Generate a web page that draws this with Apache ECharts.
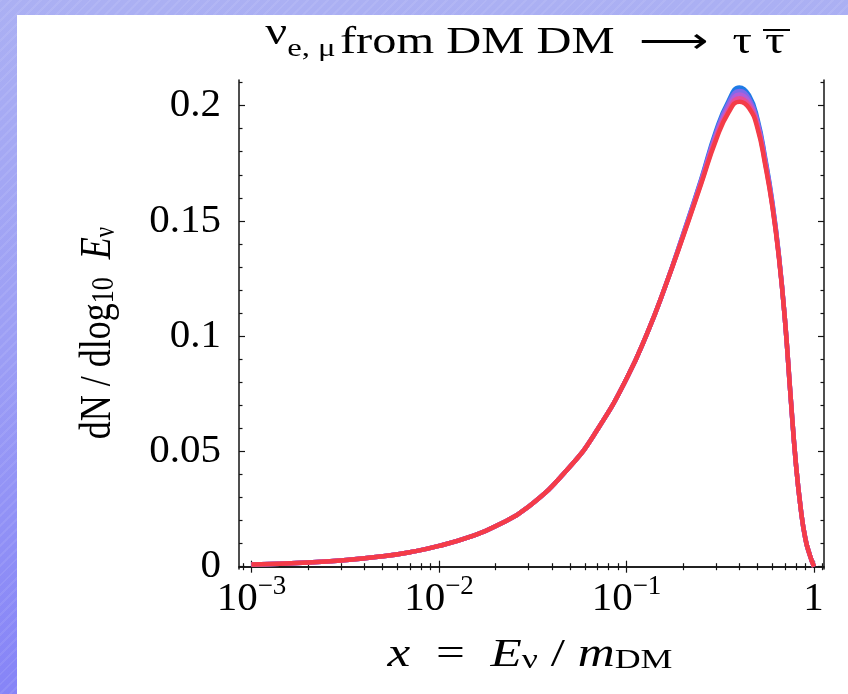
<!DOCTYPE html>
<html>
<head>
<meta charset="utf-8">
<script src="https://cdn.jsdelivr.net/npm/echarts@6/dist/echarts.min.js"></script>
<style>
html, body { margin: 0; padding: 0; width: 848px; height: 694px; overflow: hidden; }
#bg { position: absolute; left: 0; top: 0; width: 848px; height: 694px;
  background: repeating-linear-gradient(135deg, rgba(255,255,255,0.08) 0 2px, rgba(255,255,255,0) 2px 7px),
              linear-gradient(to bottom, #abb0f3 0%, #9c9ef5 50%, #8684f7 100%); }
#panel { position: absolute; left: 17px; top: 15px; width: 831px; height: 679px; background: #fff; }
#main { position: absolute; left: 0; top: 0; width: 848px; height: 694px; }
</style>
</head>
<body>
<div id="bg"></div>
<div id="panel"></div>
<div id="main"></div>
<script>
// x = E / m_DM
var xs = [0.001, 0.002, 0.003, 0.005, 0.007, 0.01, 0.015, 0.02, 0.03, 0.05, 0.07, 0.1, 0.13, 0.16,
          0.2, 0.25, 0.3, 0.35, 0.4, 0.45, 0.5, 0.55, 0.6, 0.65,
          0.7, 0.75, 0.8, 0.85, 0.9, 0.95, 1];
// dN/dlog10 E, one curve per colour (blue -> red)
var yBlue   = [0.0009, 0.0018, 0.0027, 0.0045, 0.0063, 0.009, 0.0133, 0.0175, 0.026, 0.0435, 0.0595, 0.0815, 0.102, 0.121,
               0.1440, 0.1680, 0.1890, 0.2020, 0.2079, 0.2045, 0.1940, 0.1770, 0.1580, 0.1350,
               0.107, 0.074, 0.045, 0.025, 0.012, 0.005, 0];
var yViolet = [0.0009, 0.0018, 0.0027, 0.0045, 0.0063, 0.009, 0.0133, 0.0175, 0.026, 0.0435, 0.0595, 0.0815, 0.102, 0.121,
               0.1438, 0.1675, 0.1880, 0.2010, 0.2063, 0.2030, 0.1930, 0.1760, 0.1575, 0.1348,
               0.107, 0.074, 0.045, 0.025, 0.012, 0.005, 0];
var yPurple = [0.0009, 0.0018, 0.0027, 0.0045, 0.0063, 0.009, 0.0133, 0.0175, 0.026, 0.0435, 0.0595, 0.0815, 0.102, 0.121,
               0.1435, 0.1670, 0.1870, 0.1995, 0.2048, 0.2017, 0.1920, 0.1755, 0.1570, 0.1345,
               0.107, 0.074, 0.045, 0.025, 0.012, 0.005, 0];
var yPink   = [0.0009, 0.0018, 0.0027, 0.0045, 0.0063, 0.009, 0.0133, 0.0175, 0.026, 0.0435, 0.0595, 0.0815, 0.102, 0.121,
               0.1432, 0.1665, 0.1860, 0.1980, 0.2032, 0.2003, 0.1910, 0.1748, 0.1565, 0.1343,
               0.107, 0.074, 0.045, 0.025, 0.012, 0.005, 0];
var yRed    = [0.0009, 0.0018, 0.0027, 0.0045, 0.0063, 0.009, 0.0133, 0.0175, 0.026, 0.0435, 0.0595, 0.0815, 0.102, 0.121,
               0.1430, 0.1660, 0.1850, 0.1970, 0.2017, 0.1990, 0.1900, 0.1740, 0.1560, 0.1340,
               0.107, 0.074, 0.045, 0.025, 0.012, 0.005, 0];

var curves = [yBlue, yViolet, yPurple, yPink, yRed];
var colors = ['#1f7be6', '#7f6aea', '#b35ed8', '#e64f98', '#f43c48'];

// ticks
var xMajor = [0.001, 0.01, 0.1, 1];
var xMinor = [0.0009, 0.002, 0.003, 0.004, 0.005, 0.006, 0.007, 0.008, 0.009,
              0.02, 0.03, 0.04, 0.05, 0.06, 0.07, 0.08, 0.09,
              0.2, 0.3, 0.4, 0.5, 0.6, 0.7, 0.8, 0.9, 1.1];
var yMajor = [0, 0.05, 0.1, 0.15, 0.2];
var yMinor = [0.01, 0.02, 0.03, 0.04, 0.06, 0.07, 0.08, 0.09, 0.11, 0.12, 0.13, 0.14,
              0.16, 0.17, 0.18, 0.19, 0.21];

var xMin = Math.pow(10, -3.0667), xMax = Math.pow(10, 0.0533);
var yMin = -0.001, yMax = 0.2111;

var serif = '"Liberation Serif", "Times New Roman", serif';
var ink = '#141414';

function powLabel(v) {
    if (v === 1) return '{b|1}{e| }';
    var n = Math.round(-Math.log10(v));
    return '{b|10}{s|\u2212' + n + '}';
}

function xAx(pos, ticks, len, withLine, withLabel) {
    return {
        type: 'log', logBase: 10, min: xMin, max: xMax, position: pos,
        axisLine: { show: withLine, lineStyle: { color: ink, width: 1.5 } },
        splitLine: { show: false },
        axisTick: { show: true, inside: true, length: len, customValues: ticks, lineStyle: { color: ink, width: 1.2 } },
        axisLabel: withLabel ? {
            customValues: xMajor, formatter: powLabel, margin: 4,
            rich: {
                b: { fontFamily: serif, fontSize: 41, color: '#000', verticalAlign: 'bottom' },
                s: { fontFamily: serif, fontSize: 27, color: '#000', verticalAlign: 'top', padding: [0, 0, 20, 0] },
                e: { fontFamily: serif, fontSize: 27, width: 1, verticalAlign: 'top', padding: [0, 0, 20, 0] }
            }
        } : { show: false }
    };
}

function yAx(pos, ticks, len, withLine, withLabel) {
    return {
        type: 'value', min: yMin, max: yMax, position: pos,
        axisLine: { show: withLine, lineStyle: { color: ink, width: 1.5 } },
        splitLine: { show: false },
        axisTick: { show: true, inside: true, length: len, customValues: ticks, lineStyle: { color: ink, width: 1.2 } },
        axisLabel: withLabel ? {
            customValues: yMajor, margin: 18,
            fontFamily: serif, fontSize: 41, color: '#000'
        } : { show: false }
    };
}

var chart = echarts.init(document.getElementById('main'), null, { renderer: 'canvas' });

var series = curves.map(function (ys, k) {
    return {
        type: 'line', xAxisIndex: 0, yAxisIndex: 0,
        data: xs.map(function (x, i) { return [x, ys[i]]; }),
        showSymbol: false, smooth: 0.5,
        lineStyle: { color: colors[k], width: 4.5 },
        z: 2 + k, silent: true
    };
});

chart.setOption({
    backgroundColor: 'transparent',
    animation: false,
    grid: { left: 239, right: 24, top: 80, bottom: 125 },
    xAxis: [
        xAx('bottom', xMajor, 6, true, true),
        xAx('bottom', xMinor, 3.5, false, false),
        xAx('top', xMajor, 6, true, false),
        xAx('top', xMinor, 3.5, false, false)
    ],
    yAxis: [
        yAx('left', yMajor, 6, true, true),
        yAx('left', yMinor, 3.5, false, false),
        yAx('right', yMajor, 6, true, false),
        yAx('right', yMinor, 3.5, false, false)
    ],
    graphic: [
        {   // title, up to the first tau
            type: 'text', x: 752, y: 39, scaleX: 1.31,
            style: {
                text: '{nu|\u03bd}{sub|e, \u03bc} {r|from DM DM  \u27f6  \u03c4}',
                textAlign: 'right', textVerticalAlign: 'middle',
                rich: {
                    nu: { fontFamily: serif, fontSize: 37, verticalAlign: 'bottom', padding: [0, 0, 9, 0] },
                    sub: { fontFamily: serif, fontSize: 25, verticalAlign: 'bottom' },
                    r: { fontFamily: serif, fontSize: 37, verticalAlign: 'bottom' }
                }
            }
        },
        {   // anti-tau
            type: 'text', x: 765, y: 43.5, scaleX: 1.31,
            style: { text: '\u03c4', fontFamily: serif, fontSize: 37, textAlign: 'left', textVerticalAlign: 'middle', fill: '#000' }
        },
        {
            type: 'line', shape: { x1: 763, y1: 30, x2: 790, y2: 30 },
            style: { stroke: '#000', lineWidth: 2 }
        },
        {   // y name
            type: 'text', x: 98, y: 333, rotation: Math.PI / 2, scaleY: 1.25,
            style: {
                text: '{r|dN / dlog}{sub|10}{r|  }{it|E}{nu|\u03bd}',
                textAlign: 'center', textVerticalAlign: 'middle',
                rich: {
                    r: { fontFamily: serif, fontSize: 36, verticalAlign: 'bottom' },
                    sub: { fontFamily: serif, fontSize: 26, verticalAlign: 'bottom', padding: [4, 0, 0, 0] },
                    it: { fontFamily: serif, fontSize: 36, fontStyle: 'italic', verticalAlign: 'bottom' },
                    nu: { fontFamily: serif, fontSize: 23, verticalAlign: 'bottom' }
                }
            }
        },
        {   // x name
            type: 'text', x: 530, y: 655, scaleX: 1.28,
            style: {
                text: '{it|x}{r|  =  }{it|E}{sub|\u03bd}{r| / }{it|m}{sub|DM}',
                textAlign: 'center', textVerticalAlign: 'middle',
                rich: {
                    r: { fontFamily: serif, fontSize: 40, verticalAlign: 'bottom' },
                    it: { fontFamily: serif, fontSize: 40, fontStyle: 'italic', verticalAlign: 'bottom' },
                    sub: { fontFamily: serif, fontSize: 28, verticalAlign: 'bottom', padding: [6, 0, 0, 0] }
                }
            }
        }
    ],
    series: series
});
</script>
</body>
</html>
